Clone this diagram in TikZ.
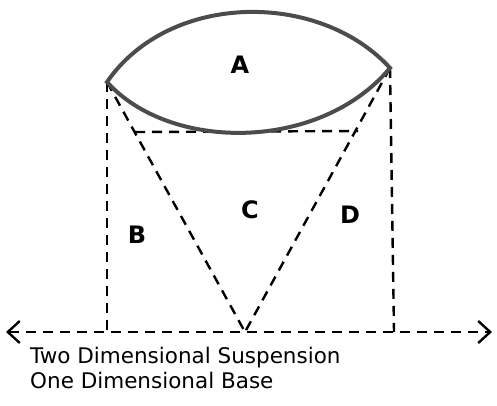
\documentclass[tikz,border=0pt]{standalone}
\usepackage{fontspec}
\setmainfont{DejaVu Sans}
\usetikzlibrary{arrows.meta}
\begin{document}
\begin{tikzpicture}[x=1pt,y=-1pt,
  dsh/.style={line width=2.4pt,dash pattern=on 10pt off 7pt},
  lens/.style={line width=4pt,draw=black!70,fill=white},
  lbl/.style={font=\fontsize{24}{24}\selectfont\bfseries},
  captxt/.style={font=\fontsize{21.5}{21.5}\selectfont,anchor=base west,inner sep=0pt}]
\useasboundingbox (0,0) rectangle (497,405);
\coordinate (L) at (107,82);
\coordinate (R) at (390,68);
\coordinate (P) at (245,332);
\coordinate (LB) at (107,332);
\coordinate (RB) at (394,332);
\coordinate (HL) at (135,132);
\coordinate (HR) at (358,131);
\coordinate (AL) at (6,332);
\coordinate (AR) at (492,332);
% dashed lines
\draw[dsh] (L) -- (LB);
\draw[dsh] (R) -- (RB);
\draw[dsh] (L) -- (P);
\draw[dsh] (R) -- (P);
\draw[dsh] (HL) -- (HR);
\draw[dsh,{Straight Barb[length=12pt,width=22pt,line width=2.4pt]}-{Straight Barb[length=12pt,width=22pt,line width=2.4pt]}] (AL) -- (AR);
% lens
\draw[lens] (L) .. controls (170,-9) and (320,-9) .. (R) .. controls (320,152) and (170,152) .. (L) -- cycle;
% labels
\node[lbl] (A) at (240,65) {A};
\node[lbl] (B) at (137,235) {B};
\node[lbl] (C) at (250,210) {C};
\node[lbl] (D) at (350,215) {D};
\node[captxt] (t1) at (30,363) {Two Dimensional Suspension};
\node[captxt] (t2) at (30,388) {One Dimensional Base};
\end{tikzpicture}
\end{document}
